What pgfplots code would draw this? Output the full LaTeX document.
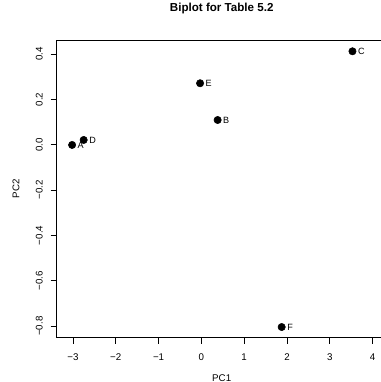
\documentclass[border=0pt]{standalone}
\usepackage{pgfplots}
\pgfplotsset{compat=1.18}
\usepackage{fontspec}
\setmainfont{Liberation Sans}
\begin{document}
\begin{tikzpicture}
\begin{axis}[
  at={(42.525pt,33.225pt)}, anchor=south west,
  scale only axis, width=247.5pt, height=223.3pt,
  xmin=-3.38, xmax=4.33, ymin=-0.851, ymax=0.462,
  axis line style={line width=0.6pt},
  tick align=outside, tick pos=left,
  major tick length=4.5pt,
  tick style={black, line width=0.6pt},
  xtick={-3,-2,-1,0,1,2,3,4},
  xticklabels={−3,−2,−1,0,1,2,3,4},
  ytick={-0.8,-0.6,-0.4,-0.2,0,0.2,0.4},
  yticklabels={−0.8,−0.6,−0.4,−0.2,0.0,0.2,0.4},
  ticklabel style={font=\fontsize{7.3}{8}\selectfont},
  xticklabel shift=4pt,
  yticklabel shift=2.5pt,
  yticklabel style={rotate=90, anchor=south},
  title={Biplot for Table 5.2},
  title style={font=\bfseries\fontsize{8.7}{10}\selectfont, at={(axis description cs:0.5,1.0783)}, anchor=center},
  xlabel={PC1},
  xlabel style={font=\fontsize{7.3}{8}\selectfont, at={(axis description cs:0.5,-0.1344)}, anchor=center},
  ylabel={PC2},
  ylabel style={font=\fontsize{7.3}{8}\selectfont, at={(axis description cs:-0.1233,0.5)}, anchor=center},
  clip=false,
]
\addplot[only marks, mark=*, mark size=2.75pt, black,
  nodes near coords, point meta=explicit symbolic,
  nodes near coords style={anchor=west, inner sep=0pt, xshift=4pt, font=\fontsize{6.8}{8}\selectfont}]
  table[meta=label] {
x y label
-3.02 -0.001 A
0.38 0.109 B
3.53 0.412 C
-2.75 0.021 D
-0.03 0.271 E
1.876 -0.804 F
};
\end{axis}
\pgfresetboundingbox
\path[use as bounding box] (0pt,0pt) rectangle (285pt,286.5pt);
\end{tikzpicture}
\end{document}
